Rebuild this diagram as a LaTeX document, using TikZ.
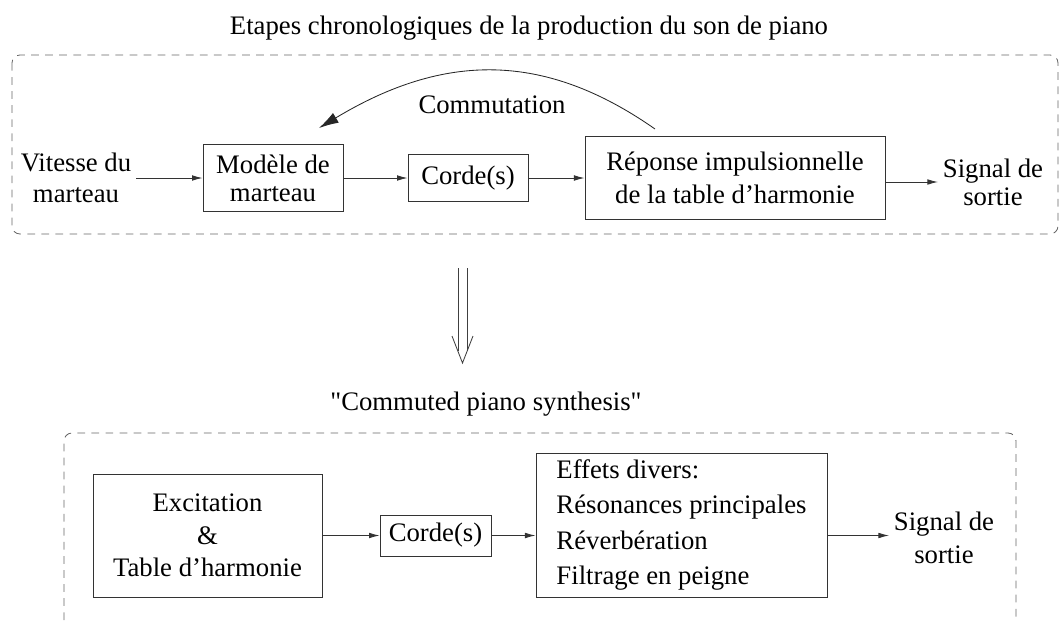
\documentclass[tikz,border=0pt]{standalone}
\usepackage{fontspec}
\setmainfont{Liberation Serif}
\newfontfamily\sansliga{Liberation Serif}
\usetikzlibrary{arrows.meta}

\begin{document}
\begin{tikzpicture}[x=0.025cm, y=-0.025cm,
    every node/.style={font=\fontsize{19}{22}\selectfont},
    bloc/.style={draw=black!80, line width=0.6pt, align=center, inner sep=0pt},
    texte/.style={align=center},
    fleche/.style={draw=black!80, line width=0.6pt, -{Latex[length=7.5pt,width=4pt]}},
    cadre/.style={draw=black!60, line width=0.6pt, dash pattern=on 5.5pt off 4.5pt, rounded corners=0.2cm},
    trait/.style={draw=black!75, line width=0.6pt}]

    \useasboundingbox (0,0) rectangle (1060,620);

    % Titles
    \node[texte] (titre) at (529,28) {Etapes chronologiques de la production du son de piano};
    \node[texte] (titre2) at (486,404) {\sansliga "Commuted piano synthesis"};

    % Dashed frames
    \draw[cadre] (12,55) rectangle (1058,234);
    \draw[cadre] (64,620) -- (64,433) -- (1016,433) -- (1016,620);

    % Top chain
    \node[texte] (vitesse) at (76,178) {Vitesse du\\marteau};
    \node[bloc, minimum width=3.5cm, minimum height=1.675cm,
          font=\fontsize{19}{20}\selectfont] (modele) at (273,178) {Mod\`ele de\\marteau};
    \node[bloc, minimum width=3cm, minimum height=1.175cm] (corde1) at (468,178) {Corde(s)};
    \node[bloc, minimum width=7.5cm, minimum height=2.075cm,
          font=\fontsize{19}{23}\selectfont] (reponse) at (735,178) {R\'eponse impulsionnelle\\de la table d'harmonie};
    \node[texte, font=\fontsize{19}{20}\selectfont] (sortie1) at (993,182) {Signal de\\sortie};

    \draw[fleche] (vitesse) -- (modele);
    \draw[fleche] (modele) -- (corde1);
    \draw[fleche] (corde1) -- (reponse);
    \draw[fleche] (reponse.east |- sortie1) -- (sortie1);

    % Commutation arc
    \coordinate (arcdebut) at (655,129);
    \coordinate (arcfin) at (319,128);
    \draw[draw=black!85, line width=0.6pt, -{Latex[length=14pt,width=8pt]}]
        (arcdebut) .. controls (545,52) and (445,52) .. (arcfin);
    \node[texte] (commut) at (492,105) {Commutation};

    % Double arrow
    \coordinate (pointe) at (462.5,363);
    \draw[trait] (458,268) -- (458,351);
    \draw[trait] (467,268) -- (467,351);
    \draw[trait] (452,336) -- (pointe) -- (473,336);

    % Bottom chain
    \node[bloc, minimum width=5.725cm, minimum height=3.075cm,
          font=\fontsize{19}{23}\selectfont] (excitation) at (207.5,535.5) {Excitation\\\&\\Table d'harmonie};
    \node[bloc, minimum width=2.775cm, minimum height=1.025cm] (corde2) at (435.5,535.5) {Corde(s)};
    \node[bloc, minimum width=7.275cm, minimum height=3.6cm, align=left,
          font=\fontsize{19}{25}\selectfont] (effets) at (681.5,525)
          {Effets divers:\\R\'esonances principales\\R\'everb\'eration\\Filtrage en peigne};
    \node[texte, font=\fontsize{19}{23}\selectfont] (sortie2) at (944,538) {Signal de\\sortie};

    \draw[fleche] (excitation) -- (corde2);
    \draw[fleche] (corde2) -- (corde2 -| effets.west);
    \draw[fleche] (effets.east |- corde2) -- (sortie2.west |- corde2);

\end{tikzpicture}
\end{document}
